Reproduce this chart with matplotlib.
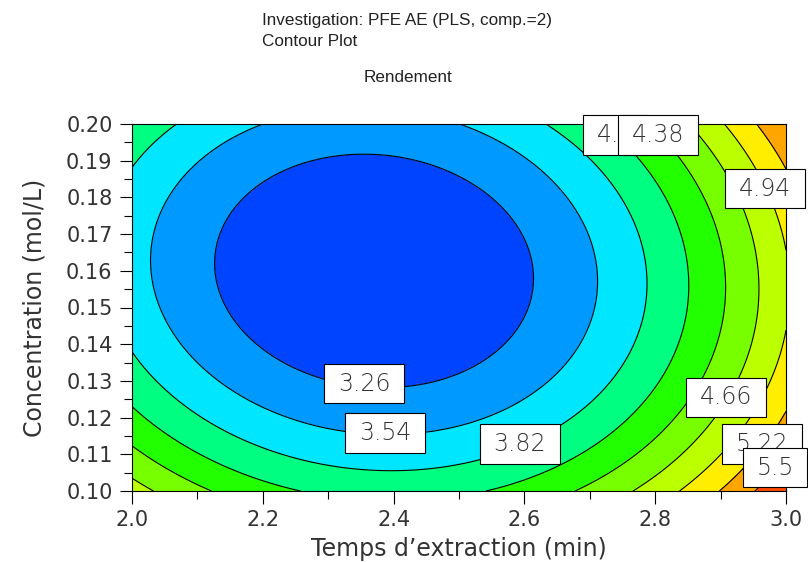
import numpy as np
import matplotlib
matplotlib.use("Agg")
import matplotlib.pyplot as plt
from matplotlib.ticker import MultipleLocator, FormatStrFormatter

# Factor ranges
time_range = [2.0, 3.0]            # Temps d'extraction (min)
conc_range = [0.10, 0.20]          # Concentration (mol/L)

# PLS model (comp.=2) for Rendement, in coded factors (-1 .. +1)
b0 = 3.075
b_lin = [0.6125, -0.256]           # time, concentration
b_sq = [1.225, 0.72]               # time^2, concentration^2
b_int = 0.12                       # time x concentration

# Contour levels and fill colours (lowest band first)
levels = [3.26, 3.54, 3.82, 4.10, 4.38, 4.66, 4.94, 5.22, 5.50]
band_colors = ["#0044ff", "#0099ff", "#00e6ff", "#00ff80", "#22ff00",
               "#77ff00", "#bbff00", "#ffee00", "#ffa500", "#ff4a00"]

# Where each level's value box sits (time, concentration)
label_pos = [(2.355, 0.1292), (2.387, 0.1158), (2.593, 0.1128),
             (2.739, 0.1970), (2.804, 0.1970), (2.908, 0.1256),
             (2.968, 0.1823), (2.963, 0.1128), (2.983, 0.1063)]


def predict(t, c):
    u = (t - np.mean(time_range)) / (np.diff(time_range)[0] / 2)
    v = (c - np.mean(conc_range)) / (np.diff(conc_range)[0] / 2)
    return (b0 + b_lin[0] * u + b_lin[1] * v + b_sq[0] * u ** 2
            + b_sq[1] * v ** 2 + b_int * u * v)


t = np.linspace(*time_range, 400)
c = np.linspace(*conc_range, 400)
T, C = np.meshgrid(t, c)
Z = predict(T, C)

fig = plt.figure(figsize=(8.08, 5.62), dpi=100)
ax = fig.add_axes([132 / 808, 71 / 562, 654 / 808, 367 / 562])

fill_levels = [Z.min() - 1] + levels + [Z.max() + 1]
ax.contourf(T, C, Z, levels=fill_levels, colors=band_colors)
ax.contour(T, C, Z, levels=levels, colors="black", linewidths=0.8)

for lev, (lx, ly) in zip(levels, label_pos):
    ax.text(lx, ly, f"{lev:g}", ha="center", va="center", fontsize=17,
            color="#333333", fontweight="light", clip_on=False, zorder=5,
            bbox=dict(boxstyle="square,pad=0.58", mutation_aspect=0.55,
                      fc="white", ec="black", lw=0.8))

ax.set_xlim(time_range)
ax.set_ylim(conc_range)
ax.xaxis.set_major_locator(MultipleLocator(0.2))
ax.xaxis.set_minor_locator(MultipleLocator(0.1))
ax.yaxis.set_major_locator(MultipleLocator(0.01))
ax.yaxis.set_minor_locator(MultipleLocator(0.005))
ax.xaxis.set_major_formatter(FormatStrFormatter("%.1f"))
ax.yaxis.set_major_formatter(FormatStrFormatter("%.2f"))
ax.tick_params(which="major", direction="out", length=9, width=0.8,
               labelsize=15, labelcolor="#333333", pad=5)
ax.tick_params(which="minor", direction="out", length=5.5, width=0.8)
for s in ax.spines.values():
    s.set_linewidth(0.8)

ax.set_xlabel("Temps d\u2019extraction (min)", fontsize=17, color="#333333", labelpad=5)
ax.set_ylabel("Concentration (mol/L)", fontsize=17, color="#333333", labelpad=14)

title_font = dict(family="Liberation Sans", fontsize=12.3, color="#222222")
fig.text(262 / 808, 1 - 20 / 562, "Investigation: PFE AE (PLS, comp.=2)",
         ha="left", va="center", **title_font)
fig.text(262 / 808, 1 - 42 / 562, "Contour Plot", ha="left", va="center", **title_font)
fig.text(408 / 808, 1 - 77 / 562, "Rendement", ha="center", va="center", **title_font)

fig.savefig("out.png", dpi=100)
